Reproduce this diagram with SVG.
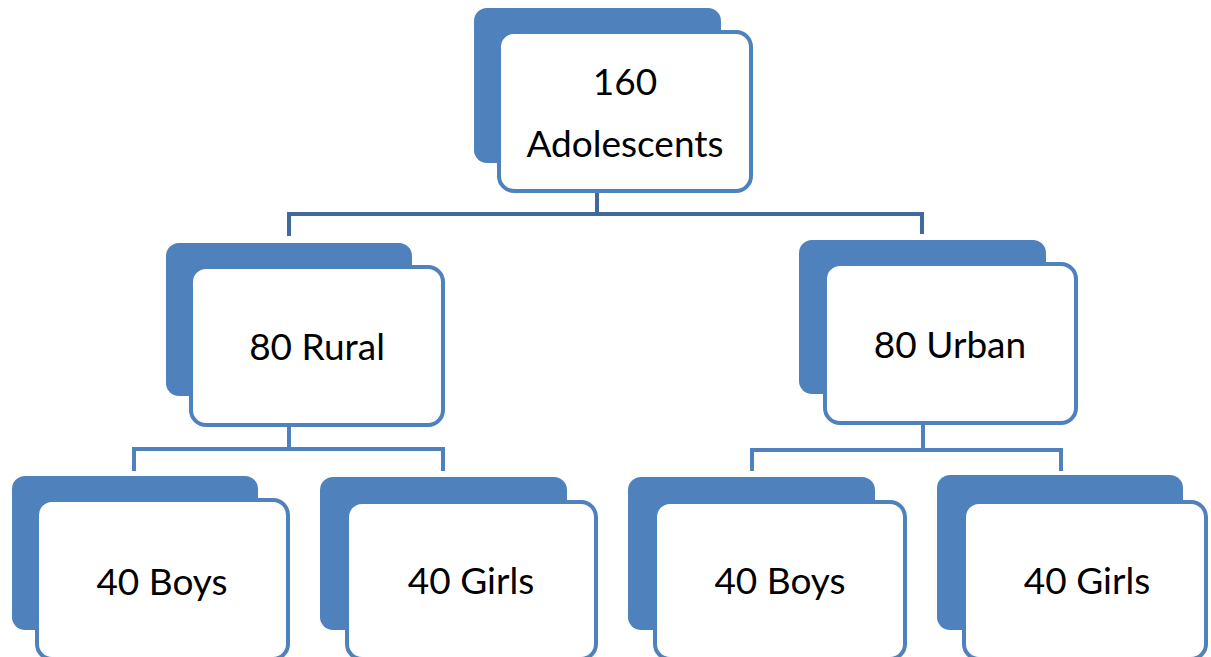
<svg xmlns="http://www.w3.org/2000/svg" width="1211" height="657" viewBox="0 0 1211 657">
<style>
.back{fill:#4F81BD;}
.front{fill:#FFFFFF;stroke:#4F81BD;stroke-width:4;}
.lbl{font-family:Lato,"Open Sans","Liberation Sans",sans-serif;font-size:37px;fill:#000;text-anchor:middle;}
.c1{fill:none;stroke:#41699A;stroke-width:4;}
.c2{fill:none;stroke:#4F81BD;stroke-width:4;}
</style>
<rect width="1211" height="657" fill="#FFFFFF"/>
<g id="connectors">
<path class="c1" d="M597 193 V214 M289 236 V214 H922 V234"/>
<path class="c2" d="M289 427 V449 M134 471 V449 H443 V471"/>
<path class="c2" d="M923 425 V450 M752 471 V450 H1061 V471"/>
</g>
<g id="n-root">
<rect class="back" x="474" y="8" width="247" height="155" rx="13"/>
<rect class="front" x="499" y="32" width="252" height="159" rx="15"/>
<text class="lbl" x="625" y="95">160</text>
<text class="lbl" x="625" y="157">Adolescents</text>
</g>
<g id="n-rural">
<rect class="back" x="166" y="243" width="246" height="153" rx="13"/>
<rect class="front" x="191" y="267" width="252" height="158" rx="15"/>
<text class="lbl" x="317" y="360">80 Rural</text>
</g>
<g id="n-urban">
<rect class="back" x="799" y="240" width="247" height="154" rx="13"/>
<rect class="front" x="825" y="264" width="251" height="159" rx="15"/>
<text class="lbl" x="950" y="358">80 Urban</text>
</g>
<g id="n-boys-rural">
<rect class="back" x="12" y="476" width="246" height="154" rx="13"/>
<rect class="front" x="37" y="500" width="251" height="159" rx="15"/>
<text class="lbl" x="162" y="595">40 Boys</text>
</g>
<g id="n-girls-rural">
<rect class="back" x="320" y="477" width="247" height="153" rx="13"/>
<rect class="front" x="347" y="502" width="249" height="157" rx="15"/>
<text class="lbl" x="471" y="594">40 Girls</text>
</g>
<g id="n-boys-urban">
<rect class="back" x="628" y="477" width="247" height="153" rx="13"/>
<rect class="front" x="655" y="502" width="250" height="157" rx="15"/>
<text class="lbl" x="780" y="594">40 Boys</text>
</g>
<g id="n-girls-urban">
<rect class="back" x="937" y="475" width="246" height="155" rx="13"/>
<rect class="front" x="964" y="502" width="242" height="157" rx="15"/>
<text class="lbl" x="1087" y="594">40 Girls</text>
</g>
</svg>
